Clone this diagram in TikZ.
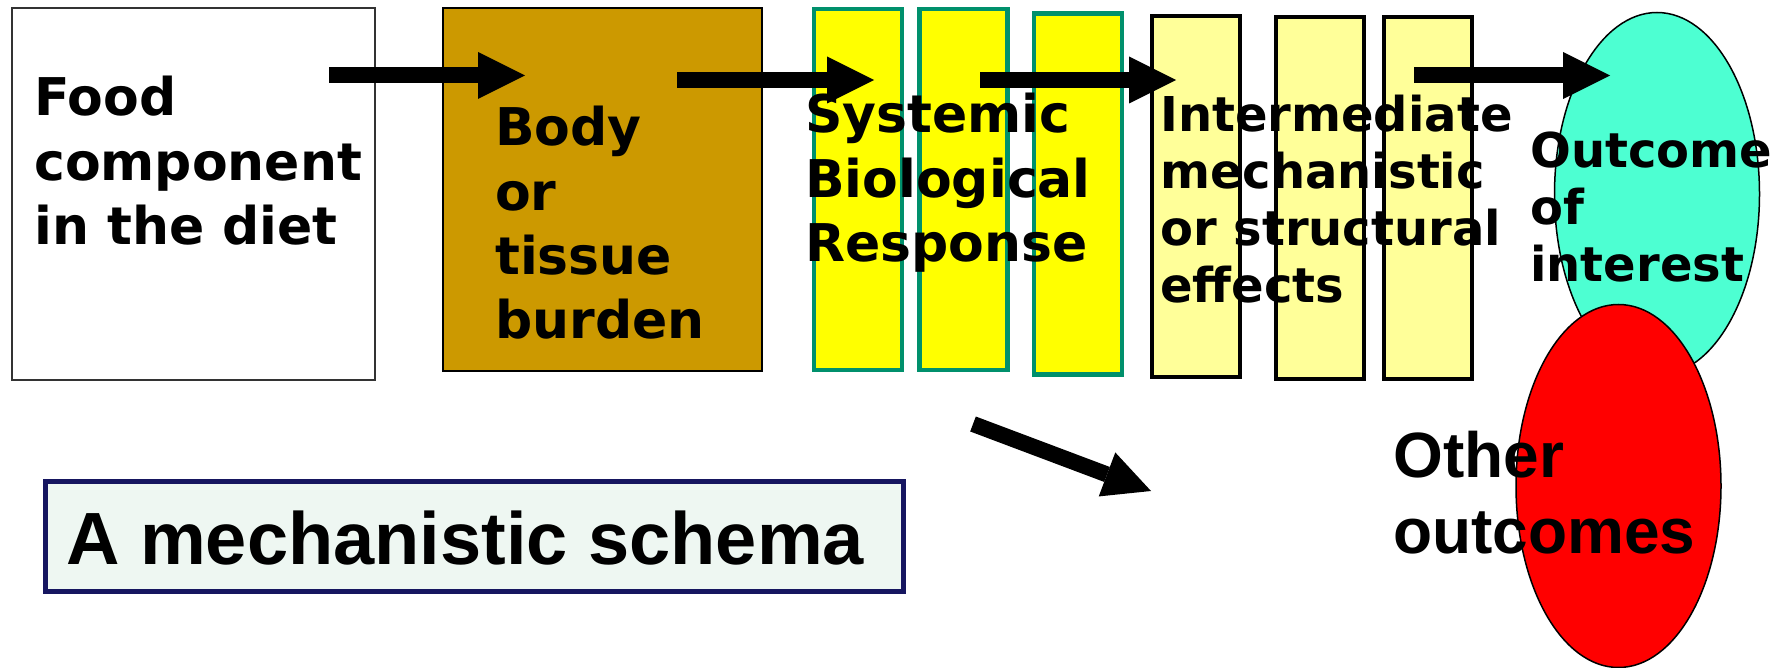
\documentclass[tikz,border=0pt]{standalone}
\usepackage{fontspec}
\setmainfont{DejaVu Sans}
\newfontfamily\arialbold{Liberation Sans}[BoldFont={* Bold}]
\usetikzlibrary{arrows.meta,shapes.geometric}
\definecolor{bodybrown}{HTML}{CC9900}
\definecolor{barborder}{HTML}{00906C}
\definecolor{brightyellow}{HTML}{FFFF00}
\definecolor{paleyellow}{HTML}{FFFF99}
\definecolor{aqua}{HTML}{4DFFD2}
\definecolor{navy}{HTML}{161660}
\definecolor{mint}{HTML}{EEF7F2}
\tikzset{
  plainbox/.style={rectangle, draw=#1, inner sep=0pt},
  stagebar/.style={rectangle, fill=brightyellow, draw=barborder, line width=4.5pt,
    minimum width=88pt, minimum height=361pt, inner sep=0pt},
  effectbar/.style={rectangle, fill=paleyellow, draw=black, line width=4pt,
    minimum width=88pt, minimum height=361pt, inner sep=0pt},
  outcome/.style={ellipse, draw=black, line width=1.5pt, inner sep=0pt,
    minimum width=205pt, minimum height=363pt},
  blockarrow/.style={line width=16pt,
    -{Triangle[length=47pt 0 0, width=47pt 0 0, line width=0pt]}},
  % labels are placed by the baseline of their last line
  label/.style={anchor=base west, inner sep=0pt, align=left},
  bigtext/.style={label, font=\fontsize{52}{64.5}\selectfont\bfseries},
  midtext/.style={label, font=\fontsize{48}{57}\selectfont\bfseries},
}
\begin{document}
\begin{tikzpicture}[x=1pt, y=-1pt]
\useasboundingbox (0,0) rectangle (1781,668);

% source and burden boxes
\node[plainbox=black!80, fill=white, line width=2pt,
  minimum width=363pt, minimum height=372pt] (food) at (193.5,194) {};
\node[plainbox=black, fill=bodybrown, line width=2.5pt,
  minimum width=319pt, minimum height=363pt] (body) at (602.5,189.5) {};

% systemic response bars
\node[stagebar] (sys1) at (858,189.5) {};
\node[stagebar] (sys2) at (963.5,189.5) {};
\node[stagebar] (sys3) at (1078,194) {};

% intermediate effect bars
\node[effectbar] (eff1) at (1196,196.5) {};
\node[effectbar] (eff2) at (1320,198) {};
\node[effectbar] (eff3) at (1428,198) {};

% outcomes
\node[outcome, fill=aqua] (interest) at (1657,194) {};
\node[outcome, fill=red] (other) at (1618.5,486) {};

% arrow anchors
\coordinate (a1s) at (329,75.5);  \coordinate (a1e) at (525,75.5);
\coordinate (a2s) at (677,80);    \coordinate (a2e) at (874,80);
\coordinate (a3s) at (980,80);    \coordinate (a3e) at (1176,80);
\coordinate (a4s) at (1414,75.5); \coordinate (a4e) at (1610,75.5);
\coordinate (a5s) at (973,424);   \coordinate (a5e) at (1151,491);

\draw[blockarrow] (a1s) -- (a1e);
\draw[blockarrow] (a2s) -- (a2e);
\draw[blockarrow] (a3s) -- (a3e);
\draw[blockarrow] (a4s) -- (a4e);
\draw[blockarrow] (a5s) -- (a5e);

% labels
\node[bigtext] (foodtxt) at (34,245) {Food\\component\\in the diet};
\node[bigtext] (bodytxt) at (495,339) {Body\\or\\tissue\\burden};
\node[bigtext] (systxt) at (805,262) {Systemic\\Biological\\Response};
\node[midtext] (efftxt) at (1160,303) {Intermediate\\mechanistic\\or structural\\effects};
\node[midtext] (inttxt) at (1530,282) {Outcome\\of\\interest};
\node[label, font=\arialbold\fontsize{64}{76}\selectfont\bfseries] (othtxt)
  at (1393,553) {Other\\outcomes};

% caption
\node[plainbox=navy, fill=mint, line width=5pt,
  minimum width=858pt, minimum height=110pt] (caption) at (474.5,536.5) {};
\node[label, font=\arialbold\fontsize{74}{80}\selectfont\bfseries] (captxt)
  at (66,564) {A mechanistic schema};
\end{tikzpicture}
\end{document}
